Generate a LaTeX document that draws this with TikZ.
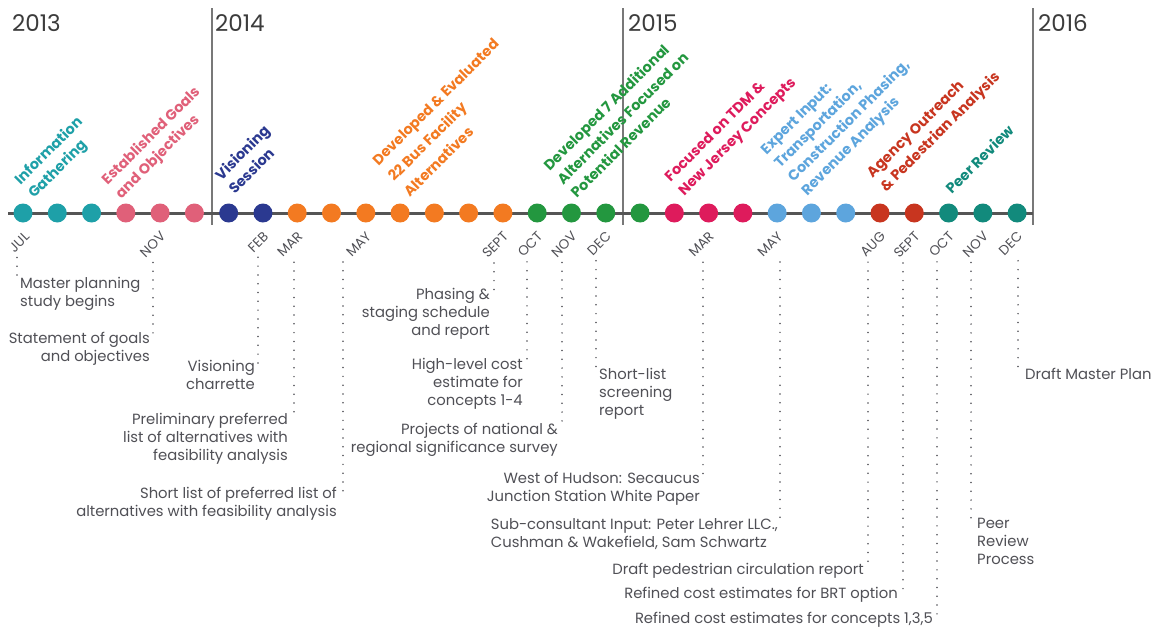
\documentclass[tikz,border=0pt]{standalone}
\usepackage{fontspec}
\setmainfont{Poppins}
\usepackage{xcolor}
\definecolor{spine-gray}{RGB}{85,85,85}
\definecolor{rule-gray}{RGB}{120,120,120}
\definecolor{year-ink}{RGB}{60,60,60}
\definecolor{note-ink}{RGB}{80,80,86}
\definecolor{phase-teal}{RGB}{30,160,168}
\definecolor{phase-pink}{RGB}{224,96,121}
\definecolor{phase-navy}{RGB}{43,57,144}
\definecolor{phase-orange}{RGB}{243,122,33}
\definecolor{phase-green}{RGB}{35,151,63}
\definecolor{phase-magenta}{RGB}{222,27,92}
\definecolor{phase-sky}{RGB}{93,165,221}
\definecolor{phase-red}{RGB}{200,53,31}
\definecolor{phase-sea}{RGB}{18,138,124}
\usetikzlibrary{calc}
\tikzset{
  timeline/.style={
    draw=spine-gray,
    line width=3pt
  },
  year-rule/.style={
    draw=rule-gray,
    line width=1.4pt
  },
  year-label/.style={
    anchor=base west,
    inner sep=0pt,
    text=year-ink,
    font=\fontsize{23}{27}\selectfont
  },
  month-dot/.style={
    circle,
    inner sep=0pt,
    minimum size=19pt
  },
  month-tag/.style={
    rotate=45,
    anchor=east,
    inner sep=0pt,
    text=note-ink,
    font=\fontsize{13.5}{15}\selectfont
  },
  phase/.style={
    rotate=45,
    anchor=south west,
    inner sep=0pt,
    align=left,
    font=\bfseries\fontsize{14.4}{19.2}\selectfont
  },
  note/.style={
    inner sep=0pt,
    text=note-ink,
    font=\fontsize{14.8}{17.9}\selectfont
  },
  leader/.style={
    draw=note-ink,
    line width=1.7pt,
    line cap=round,
    dash pattern=on 0pt off 8.8pt
  },
}

\begin{document}
\begin{tikzpicture}[x=1pt,y=-1pt]

  \def\YLINE{213}
  \def\XSTART{23}
  \def\XSTEP{34.28}

  \path[fill=white] (0,0) rectangle (1157,632);
  \useasboundingbox (0,0) rectangle (1157,632);

  % years
  \draw[year-rule] (212,8) -- (212,225);
  \draw[year-rule] (623,8) -- (623,225);
  \draw[year-rule] (1033,8) -- (1033,225);
  \node[year-label] (y2013) at (12,31) {2013};
  \node[year-label] (y2014) at (215,31) {2014};
  \node[year-label] (y2015) at (628,31) {2015};
  \node[year-label] (y2016) at (1038,31) {2016};

  % timeline
  \draw[timeline] (8,\YLINE) -- (1033,\YLINE);

  % months
  \node[month-dot, fill=phase-teal] (jul13) at (\XSTART+0*\XSTEP,\YLINE) {};
  \node[month-dot, fill=phase-teal] (aug13) at (\XSTART+1*\XSTEP,\YLINE) {};
  \node[month-dot, fill=phase-teal] (sep13) at (\XSTART+2*\XSTEP,\YLINE) {};
  \node[month-dot, fill=phase-pink] (oct13) at (\XSTART+3*\XSTEP,\YLINE) {};
  \node[month-dot, fill=phase-pink] (nov13) at (\XSTART+4*\XSTEP,\YLINE) {};
  \node[month-dot, fill=phase-pink] (dec13) at (\XSTART+5*\XSTEP,\YLINE) {};
  \node[month-dot, fill=phase-navy] (jan14) at (\XSTART+6*\XSTEP,\YLINE) {};
  \node[month-dot, fill=phase-navy] (feb14) at (\XSTART+7*\XSTEP,\YLINE) {};
  \node[month-dot, fill=phase-orange] (mar14) at (\XSTART+8*\XSTEP,\YLINE) {};
  \node[month-dot, fill=phase-orange] (apr14) at (\XSTART+9*\XSTEP,\YLINE) {};
  \node[month-dot, fill=phase-orange] (may14) at (\XSTART+10*\XSTEP,\YLINE) {};
  \node[month-dot, fill=phase-orange] (jun14) at (\XSTART+11*\XSTEP,\YLINE) {};
  \node[month-dot, fill=phase-orange] (jul14) at (\XSTART+12*\XSTEP,\YLINE) {};
  \node[month-dot, fill=phase-orange] (aug14) at (\XSTART+13*\XSTEP,\YLINE) {};
  \node[month-dot, fill=phase-orange] (sep14) at (\XSTART+14*\XSTEP,\YLINE) {};
  \node[month-dot, fill=phase-green] (oct14) at (\XSTART+15*\XSTEP,\YLINE) {};
  \node[month-dot, fill=phase-green] (nov14) at (\XSTART+16*\XSTEP,\YLINE) {};
  \node[month-dot, fill=phase-green] (dec14) at (\XSTART+17*\XSTEP,\YLINE) {};
  \node[month-dot, fill=phase-green] (jan15) at (\XSTART+18*\XSTEP,\YLINE) {};
  \node[month-dot, fill=phase-magenta] (feb15) at (\XSTART+19*\XSTEP,\YLINE) {};
  \node[month-dot, fill=phase-magenta] (mar15) at (\XSTART+20*\XSTEP,\YLINE) {};
  \node[month-dot, fill=phase-magenta] (apr15) at (\XSTART+21*\XSTEP,\YLINE) {};
  \node[month-dot, fill=phase-sky] (may15) at (\XSTART+22*\XSTEP,\YLINE) {};
  \node[month-dot, fill=phase-sky] (jun15) at (\XSTART+23*\XSTEP,\YLINE) {};
  \node[month-dot, fill=phase-sky] (jul15) at (\XSTART+24*\XSTEP,\YLINE) {};
  \node[month-dot, fill=phase-red] (aug15) at (\XSTART+25*\XSTEP,\YLINE) {};
  \node[month-dot, fill=phase-red] (sep15) at (\XSTART+26*\XSTEP,\YLINE) {};
  \node[month-dot, fill=phase-sea] (oct15) at (\XSTART+27*\XSTEP,\YLINE) {};
  \node[month-dot, fill=phase-sea] (nov15) at (\XSTART+28*\XSTEP,\YLINE) {};
  \node[month-dot, fill=phase-sea] (dec15) at (\XSTART+29*\XSTEP,\YLINE) {};

  % phases
  \node[phase, text=phase-teal] (p-info) at (37,202) {Information\\Gathering};
  \node[phase, text=phase-pink] (p-goals) at (124,202) {Established Goals\\and Objectives};
  \node[phase, text=phase-navy] (p-vision) at (235,195) {Visioning\\Session};
  \node[phase, text=phase-orange] (p-bus) at (410,198) {Developed \& Evaluated\\[3pt]22 Bus Facility\\[3pt]Alternatives};
  \node[phase, text=phase-green] (p-revenue) at (577,199) {Developed 7 Additional\\Alternatives Focused on\\Potential Revenue};
  \node[phase, text=phase-magenta] (p-tdm) at (687,199) {Focused on TDM \&\\New Jersey Concepts};
  \node[phase, text=phase-sky] (p-expert) at (810,199) {Expert Input:\\Transportation,\\Construction Phasing,\\Revenue Analysis};
  \node[phase, text=phase-red] (p-agency) at (889,195) {Agency Outreach\\\& Pedestrian Analysis};
  \node[phase, text=phase-sea] (p-peer) at (952,195) {Peer Review};

  % month tags
  \node[month-tag] (m-jul13) at ($(jul13)+(4,21)$) {JUL};
  \node[month-tag] (m-nov13) at ($(nov13)+(3,21)$) {NOV};
  \node[month-tag] (m-feb14) at ($(feb14)+(3,21)$) {FEB};
  \node[month-tag] (m-mar14) at ($(mar14)+(3,21)$) {MAR};
  \node[month-tag] (m-may14) at ($(may14)+(3,21)$) {MAY};
  \node[month-tag] (m-sep14) at ($(sep14)+(3,21)$) {SEPT};
  \node[month-tag] (m-oct14) at ($(oct14)+(3,21)$) {OCT};
  \node[month-tag] (m-nov14) at ($(nov14)+(3,21)$) {NOV};
  \node[month-tag] (m-dec14) at ($(dec14)+(3,21)$) {DEC};
  \node[month-tag] (m-mar15) at ($(mar15)+(3,21)$) {MAR};
  \node[month-tag] (m-may15) at ($(may15)+(3,21)$) {MAY};
  \node[month-tag] (m-aug15) at ($(aug15)+(3,21)$) {AUG};
  \node[month-tag] (m-sep15) at ($(sep15)+(3,21)$) {SEPT};
  \node[month-tag] (m-oct15) at ($(oct15)+(3,21)$) {OCT};
  \node[month-tag] (m-nov15) at ($(nov15)+(3,21)$) {NOV};
  \node[month-tag] (m-dec15) at ($(dec15)+(3,21)$) {DEC};

  % leader ends
  \coordinate (lead-jul13) at (17,283);
  \coordinate (lead-nov13) at (153,338);
  \coordinate (lead-feb14) at (258,366);
  \coordinate (lead-mar14) at (294,419);
  \coordinate (lead-may14) at (343,493);
  \coordinate (lead-sep14) at (494,294);
  \coordinate (lead-oct14) at (527,364);
  \coordinate (lead-nov14) at (562,429);
  \coordinate (lead-dec14) at (596,374);
  \coordinate (lead-mar15) at (703,478);
  \coordinate (lead-may15) at (780,524);
  \coordinate (lead-aug15) at (868,569);
  \coordinate (lead-sep15) at (903,593);
  \coordinate (lead-oct15) at (937,618);
  \coordinate (lead-nov15) at (971,524);
  \coordinate (lead-dec15) at (1018,374);

  % notes
  \node[note, align=left, anchor=north west] (n-jul13) at ($(lead-jul13)+(3,-6)$) {Master planning\\study begins};
  \node[note, align=right, anchor=north east] (n-nov13) at ($(lead-nov13)+(-3,-6)$) {Statement of goals\\and objectives};
  \node[note, align=right, anchor=north east] (n-feb14) at ($(lead-feb14)+(-3,-6)$) {Visioning\\charrette};
  \node[note, align=right, anchor=north east] (n-mar14) at ($(lead-mar14)+(-6,-6)$) {Preliminary preferred\\list of alternatives with\\feasibility analysis};
  \node[note, align=right, anchor=north east] (n-may14) at ($(lead-may14)+(-6,-6)$) {Short list of preferred list of\\alternatives with feasibility analysis};
  \node[note, align=right, anchor=north east] (n-sep14) at ($(lead-sep14)+(-4,-6)$) {Phasing \&\\staging schedule\\and report};
  \node[note, align=right, anchor=north east] (n-oct14) at ($(lead-oct14)+(-4,-6)$) {High-level cost\\estimate for\\concepts 1-4};
  \node[note, align=right, anchor=north east] (n-nov14) at ($(lead-nov14)+(-4,-6)$) {Projects of national \&\\regional significance survey};
  \node[note, align=left, anchor=north west] (n-dec14) at ($(lead-dec14)+(3,-6)$) {Short-list\\screening\\report};
  \node[note, align=right, anchor=north east] (n-mar15) at ($(lead-mar15)+(-3,-6)$) {West of Hudson: Secaucus\\Junction Station White Paper};
  \node[note, align=left, anchor=north east] (n-may15) at ($(lead-may15)+(-2,-6)$) {Sub-consultant Input: Peter Lehrer LLC.,\\Cushman \& Wakefield, Sam Schwartz};
  \node[note, anchor=north east] (n-aug15) at ($(lead-aug15)+(-4,-6)$) {Draft pedestrian circulation report};
  \node[note, anchor=north east] (n-sep15) at ($(lead-sep15)+(-5,-6)$) {Refined cost estimates for BRT option};
  \node[note, anchor=north east] (n-oct15) at ($(lead-oct15)+(-4,-6)$) {Refined cost estimates for concepts 1,3,5};
  \node[note, align=left, anchor=north west] (n-nov15) at ($(lead-nov15)+(6,-6)$) {Peer\\Review\\Process};
  \node[note, anchor=north west] (n-dec15) at ($(lead-dec15)+(7,-6)$) {Draft Master Plan};

  % leaders
  \draw[leader] ($(lead-jul13 |- m-jul13.south west)+(0,4)$) -- (lead-jul13);
  \draw[leader] ($(lead-nov13 |- m-nov13.south west)+(0,4)$) -- (lead-nov13);
  \draw[leader] ($(lead-feb14 |- m-feb14.south west)+(0,4)$) -- (lead-feb14);
  \draw[leader] ($(lead-mar14 |- m-mar14.south west)+(0,4)$) -- (lead-mar14);
  \draw[leader] ($(lead-may14 |- m-may14.south west)+(0,4)$) -- (lead-may14);
  \draw[leader] ($(lead-sep14 |- m-sep14.south west)+(0,4)$) -- (lead-sep14);
  \draw[leader] ($(lead-oct14 |- m-oct14.south west)+(0,4)$) -- (lead-oct14);
  \draw[leader] ($(lead-nov14 |- m-nov14.south west)+(0,4)$) -- (lead-nov14);
  \draw[leader] ($(lead-dec14 |- m-dec14.south west)+(0,4)$) -- (lead-dec14);
  \draw[leader] ($(lead-mar15 |- m-mar15.south west)+(0,4)$) -- (lead-mar15);
  \draw[leader] ($(lead-may15 |- m-may15.south west)+(0,4)$) -- (lead-may15);
  \draw[leader] ($(lead-aug15 |- m-aug15.south west)+(0,4)$) -- (lead-aug15);
  \draw[leader] ($(lead-sep15 |- m-sep15.south west)+(0,4)$) -- (lead-sep15);
  \draw[leader] ($(lead-oct15 |- m-oct15.south west)+(0,4)$) -- (lead-oct15);
  \draw[leader] ($(lead-nov15 |- m-nov15.south west)+(0,4)$) -- (lead-nov15);
  \draw[leader] ($(lead-dec15 |- m-dec15.south west)+(0,4)$) -- (lead-dec15);

\end{tikzpicture}
\end{document}
